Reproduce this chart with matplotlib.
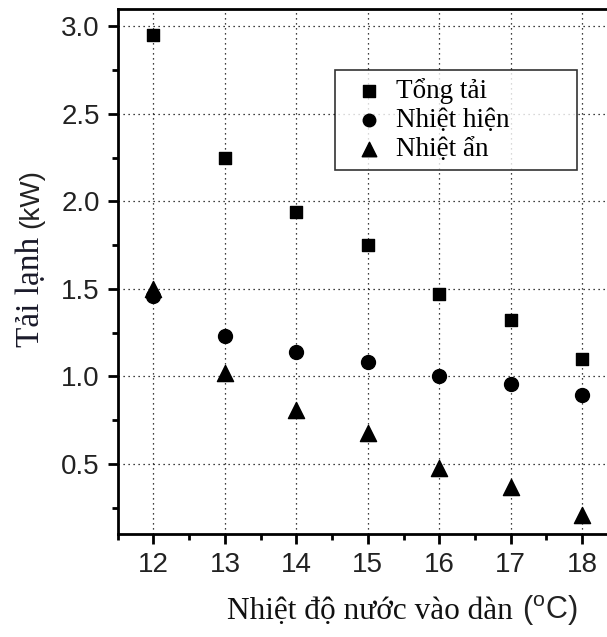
import matplotlib
matplotlib.use("Agg")
import matplotlib.pyplot as plt
from matplotlib.ticker import MultipleLocator

plt.rcParams["mathtext.fontset"] = "custom"
plt.rcParams["mathtext.rm"] = "Liberation Sans"
plt.rcParams["mathtext.it"] = "Liberation Sans"

# water inlet temperature (°C)
temps = [12, 13, 14, 15, 16, 17, 18]
# cooling loads (kW)
tong_tai = [2.95, 2.25, 1.94, 1.75, 1.47, 1.32, 1.10]
nhiet_hien = [1.46, 1.23, 1.14, 1.08, 1.00, 0.955, 0.895]
nhiet_an = [1.50, 1.02, 0.81, 0.675, 0.475, 0.37, 0.21]

series_labels = ["Tổng tải", "Nhiệt hiện", "Nhiệt ẩn"]
x_ticks = [12, 13, 14, 15, 16, 17, 18]
y_ticks = [0.5, 1.0, 1.5, 2.0, 2.5, 3.0]

fig = plt.figure(figsize=(6.07, 6.37), dpi=100)
ax = fig.add_axes([0.194, 0.162, 0.824, 0.824])

ax.scatter(temps, tong_tai, marker="s", s=85, color="black", zorder=3, label=series_labels[0])
ax.scatter(temps, nhiet_hien, marker="o", s=100, color="black", zorder=3, label=series_labels[1])
ax.scatter(temps, nhiet_an, marker="^", s=135, color="black", zorder=3, label=series_labels[2])

ax.set_xlim(11.5, 18.5)
ax.set_ylim(0.1, 3.1)
ax.set_xticks(x_ticks)
ax.set_yticks(y_ticks)
ax.set_yticklabels([f"{v:.1f}" for v in y_ticks])
ax.xaxis.set_minor_locator(MultipleLocator(0.5))
ax.yaxis.set_minor_locator(MultipleLocator(0.25))

ax.grid(True, which="major", linestyle=(0, (1, 3)), color="black", linewidth=0.9)
for s in ["left", "bottom", "top"]:
    ax.spines[s].set_linewidth(2)
ax.spines["right"].set_visible(False)
ax.tick_params(which="major", direction="out", length=7, width=2, labelsize=20, pad=6)
ax.tick_params(which="minor", direction="out", length=4, width=2)
for lab in ax.get_xticklabels() + ax.get_yticklabels():
    lab.set_fontfamily("Liberation Sans")
    lab.set_color("#222222")

leg = ax.legend(loc="upper left", bbox_to_anchor=(0.434, 0.784, 0.484, 0.1), mode="expand",
                frameon=True, fancybox=False, edgecolor="black",
                prop={"family": "Liberation Serif", "size": 19.5},
                handletextpad=0.05, labelspacing=0.15, borderpad=0.3, markerscale=0.9,
                handlelength=1.9, borderaxespad=0.0)
leg.get_frame().set_linewidth(1.2)

# axis labels: serif words followed by sans units
fig.canvas.draw()
renderer = fig.canvas.get_renderer()

xl = fig.text(0.374, 0.028, "Nhiệt độ nước vào dàn", family="Liberation Serif", size=22.5,
              color="#111111", ha="left", va="baseline")
bb = xl.get_window_extent(renderer)
fig.text((bb.x1 + 9) / fig.bbox.width, 0.028, r"($^{\mathrm{o}}$C)", family="Liberation Sans",
         size=22, color="#222222", ha="left", va="baseline")

yl = fig.text(0.026, 0.455, "Tải lạnh", family="Liberation Serif", size=24, color="#1a1a2a",
              rotation=90, ha="left", va="bottom")
bb = yl.get_window_extent(renderer)
fig.text(0.03, (bb.y1 + 9) / fig.bbox.height, "(kW)", family="Liberation Sans", size=20,
         color="#222222", rotation=90, ha="left", va="bottom")

fig.savefig("out.png", dpi=100)
